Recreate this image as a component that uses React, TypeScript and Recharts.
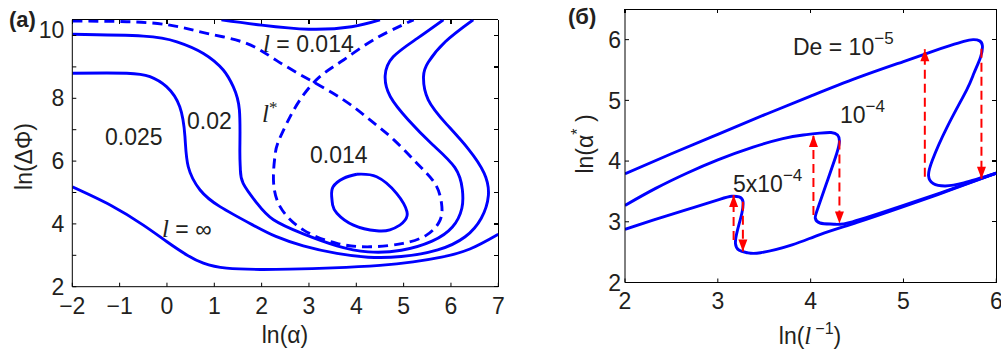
import React from "react";
import { LineChart, Line, XAxis, YAxis } from "recharts";

const FONT = "'Liberation Sans', Arial, Helvetica, sans-serif";
const SERIF = "'Liberation Serif', 'Times New Roman', serif";
const INK = "#231f20";
const BLUE = "#0000ff";
const RED = "#ff0000";

type P = [number, number];

// ---------- Panel (a): contours in (ln α, ln ΔΦ) ----------
const aXTicks = [-2, -1, 0, 1, 2, 3, 4, 5, 6, 7];
const aYTicks = [2, 3, 4, 5, 6, 7, 8, 9, 10];
const aYLabelled = [2, 4, 6, 8, 10];
const aDomainX: P = [-2, 7];
const aDomainY: P = [2, 10.5];

const contourInf: P[] = [
  [-2, 5.18], [-1.2, 4.6], [-0.5, 3.96], [0, 3.43], [0.42, 3.01], [0.77, 2.75],
  [1.26, 2.59], [1.97, 2.55], [2.6, 2.56], [3.5, 2.6], [4.5, 2.68], [5.2, 2.79],
  [5.8, 2.94], [6.4, 3.2], [7, 3.67],
];
const contour025: P[] = [
  [-2, 8.8], [-0.85, 8.8], [-0.36, 8.69], [-0.01, 8.37], [0.27, 7.73], [0.38, 6.78],
  [0.45, 5.82], [0.7, 5.08], [1.12, 4.55], [1.82, 3.96], [2.3, 3.6], [2.88, 3.3],
  [3.59, 3.06], [4.25, 2.94], [4.95, 2.96], [5.72, 3.17], [6.3, 3.59], [6.64, 4.18],
  [6.79, 4.9], [6.7, 5.62], [6.36, 6.4], [5.91, 7.17], [5.52, 7.95], [5.42, 8.69],
  [5.52, 9.15], [5.88, 9.8], [6.47, 10.5],
];
const contour02: P[] = [
  [-2, 10.04], [-0.5, 9.98], [0.21, 9.8], [0.77, 9.43], [1.19, 8.9], [1.4, 8.37],
  [1.53, 7.63], [1.54, 6.35], [1.55, 5.75], [1.61, 5.29], [1.9, 4.66], [2.25, 4.13],
  [2.88, 3.68], [3.59, 3.3], [4.25, 3.11], [4.95, 3.16], [5.6, 3.45], [6.03, 3.9],
  [6.23, 4.5], [6.24, 5.1], [6.08, 5.8], [5.58, 6.57], [5.1, 7.31], [4.72, 8.05],
  [4.61, 8.72], [4.78, 9.32], [5.28, 9.9], [5.84, 10.5],
];
const contour014Top: P[] = [
  [1.15, 10.5], [2.0, 10.33], [3.0, 10.2], [3.9, 10.28], [4.5, 10.5],
];
const contour014Loop: P[] = [
  [4.01, 5.58], [4.43, 5.5], [4.85, 4.97], [5.07, 4.39], [5.03, 4.12], [4.92, 3.96],
  [4.71, 3.81], [4.43, 3.78], [3.94, 3.96], [3.59, 4.34], [3.5, 4.6], [3.48, 4.87],
  [3.51, 5.18], [3.73, 5.45], [4.01, 5.58],
];
const separatrix: P[] = [
  [-2, 10.46], [-0.85, 10.44], [0.06, 10.33], [0.84, 10.07], [1.68, 9.75], [2.32, 9.2],
  [3.02, 8.58], [3.73, 7.95], [4.29, 7.31], [4.8, 6.67], [5.28, 5.93], [5.66, 5.29],
  [5.8, 4.66], [5.77, 4.12], [5.49, 3.65], [4.99, 3.38], [4.29, 3.27], [3.59, 3.38],
  [2.88, 3.81], [2.39, 4.55], [2.25, 5.4], [2.28, 6.14], [2.34, 6.57], [2.53, 7.2],
  [2.81, 7.95], [3.23, 8.69], [3.73, 9.22], [4.36, 9.86], [5.21, 10.5],
];

// ---------- Panel (б): ln α* vs ln(1/l) ----------
const bXTicks = [2, 3, 4, 5, 6];
const bYTicks = [2, 3, 4, 5, 6];
const bDomainX: P = [2, 6];
const bDomainY: P = [2, 6.5];

const de1e5: P[] = [
  [2, 3.79], [2.5, 4.12], [3, 4.44], [3.5, 4.76], [4, 5.07], [4.5, 5.37], [5, 5.64],
  [5.3, 5.8], [5.5, 5.9], [5.65, 5.97], [5.75, 6.0], [5.82, 5.98], [5.85, 5.9],
  [5.83, 5.71], [5.76, 5.45], [5.68, 5.17], [5.47, 4.56], [5.31, 4.01], [5.27, 3.76],
  [5.32, 3.63], [5.45, 3.59], [5.65, 3.64], [6, 3.8],
];
const de1e4: P[] = [
  [2, 3.27], [2.33, 3.55], [2.665, 3.8], [3, 4.02], [3.38, 4.23], [3.7, 4.37],
  [3.92, 4.43], [4.1, 4.46], [4.22, 4.47], [4.29, 4.43], [4.31, 4.33], [4.28, 4.12],
  [4.17, 3.63], [4.07, 3.19], [4.05, 3.06], [4.1, 2.98], [4.25, 2.96], [4.45, 3.0],
  [5, 3.27], [5.5, 3.53], [6, 3.8],
];
const de5e4: P[] = [
  [2, 2.875], [2.31, 3.03], [2.665, 3.2], [3.02, 3.37], [3.15, 3.42], [3.23, 3.41],
  [3.27, 3.34], [3.26, 3.15], [3.21, 2.85], [3.19, 2.64], [3.23, 2.53], [3.32, 2.49],
  [3.46, 2.49], [3.8, 2.62], [4.1, 2.79], [4.5, 2.99], [5, 3.25], [5.5, 3.52], [6, 3.8],
];
const arrowX = [3.17, 3.27, 4.03, 4.31, 5.23, 5.84];
const arrowFrom = [2.7, 3.33, 3.11, 4.34, 3.74, 5.85];
const arrowTo = [3.44, 2.51, 4.43, 2.97, 5.84, 3.71];

const toPts = (arr: P[]) => arr.map(([x, y]) => ({ x, y }));
const arrows = arrowX.map((x, i) => [
  { x, y: arrowFrom[i] },
  { x, y: arrowTo[i], tip: arrowTo[i] > arrowFrom[i] ? "up" : "down" },
]);

const fmtMinus = (v: number) => (v < 0 ? `\u2212${Math.abs(v)}` : `${v}`);
const TICK_FS = 23;
const tickStyle = { fill: INK, fontSize: TICK_FS, fontFamily: FONT };

// plot-area frames (page pixels) – used for chart margins and the Matlab-style box
const W = 1001;
const H = 352;
const X_AXIS_H = 60;
const aFrame = { left: 72.3, right: 498.3, top: 19.8, bottom: 286.7 };
const bFrame = { left: 625, right: 996.3, top: 9.3, bottom: 282.5 };
const marginOf = (f: typeof aFrame) => ({
  top: f.top,
  right: W - f.right,
  bottom: H - f.bottom - X_AXIS_H,
  left: 0,
});

const TICK_PX = 4;
const MatlabBox = ({ f, dx, dy, xt, yt }: any) => {
  const sx = (v: number) => f.left + ((v - dx[0]) / (dx[1] - dx[0])) * (f.right - f.left);
  const sy = (v: number) => f.bottom - ((v - dy[0]) / (dy[1] - dy[0])) * (f.bottom - f.top);
  return (
    <g stroke="#000" strokeWidth={1.2} fill="none" shapeRendering="crispEdges">
      <line x1={f.left} y1={f.top} x2={f.right} y2={f.top} />
      <line x1={f.right} y1={f.top} x2={f.right} y2={f.bottom} />
      {xt.map((t: number) => (
        <line key={`t${t}`} x1={sx(t)} y1={f.top} x2={sx(t)} y2={f.top + TICK_PX} />
      ))}
      {yt.map((t: number) => (
        <line key={`r${t}`} x1={f.right} y1={sy(t)} x2={f.right - TICK_PX} y2={sy(t)} />
      ))}
    </g>
  );
};

const AYTick = (p: any) => {
  const v = p.payload?.value;
  const label = aYLabelled.includes(v) ? String(v) : "";
  const shift = v === 10 ? -6 : 0;
  return (
    <text x={p.x} y={p.y + shift} dy="0.355em" textAnchor="end" fill={INK} fontSize={TICK_FS} fontFamily={FONT}>
      {label}
    </text>
  );
};

const ArrowDot = (props: any) => {
  const { cx, cy, payload, index } = props;
  if (!payload || !payload.tip || cx == null || cy == null) return <g key={`ad${index}`} />;
  const s = payload.tip === "up" ? 1 : -1;
  return (
    <polygon
      key={`ad${index}`}
      points={`${cx},${cy} ${cx - 4.5},${cy + s * 12} ${cx + 4.5},${cy + s * 12}`}
      fill={RED}
      stroke="none"
    />
  );
};

const lineCommon = {
  dataKey: "y",
  type: "natural" as const,
  dot: false,
  activeDot: false,
  isAnimationActive: false,
  stroke: BLUE,
  strokeWidth: 2.9,
};

const T = (p: any) => <text fontFamily={FONT} fill={INK} fontSize={23} {...p} />;
const It = ({ children, size }: any) => (
  <tspan fontFamily={SERIF} fontStyle="italic" fontSize={size || 25}>
    {children}
  </tspan>
);

export default function App() {
  return (
    <div style={{ position: "absolute", left: 0, top: 0, width: W, height: H, background: "#fff" }}>
      <div style={{ position: "absolute", left: 0, top: 0 }}>
        <LineChart width={W} height={H} margin={marginOf(aFrame)}>
          <XAxis
            xAxisId="b" type="number" dataKey="x" domain={aDomainX} ticks={aXTicks} allowDataOverflow
            interval={0} height={X_AXIS_H} tickSize={-4} tickMargin={15.4} stroke="#000"
            tick={tickStyle} tickFormatter={fmtMinus}
          />
          <YAxis
            yAxisId="l" type="number" domain={aDomainY} ticks={aYTicks} allowDataOverflow interval={0}
            width={aFrame.left} tickSize={-4} tickMargin={12} stroke="#000" tick={AYTick}
          />
          <Line {...lineCommon} xAxisId="b" yAxisId="l" data={toPts(contourInf)} />
          <Line {...lineCommon} xAxisId="b" yAxisId="l" data={toPts(contour025)} />
          <Line {...lineCommon} xAxisId="b" yAxisId="l" data={toPts(contour02)} />
          <Line {...lineCommon} xAxisId="b" yAxisId="l" data={toPts(contour014Top)} />
          <Line {...lineCommon} xAxisId="b" yAxisId="l" data={toPts(contour014Loop)} />
          <Line {...lineCommon} xAxisId="b" yAxisId="l" data={toPts(separatrix)} strokeDasharray="10 6" />
          <MatlabBox f={aFrame} dx={aDomainX} dy={aDomainY} xt={aXTicks} yt={aYTicks} />

          <T x={9} y={27} fontWeight="bold" fontSize={22}>(a)</T>
          <T x={285} y={343} textAnchor="middle">ln(α)</T>
          <T transform="rotate(-90)" x={-156.5} y={32} textAnchor="middle">ln(ΔΦ)</T>
          <T x={263} y={52}><It>l</It>{" = 0.014"}</T>
          <T x={262} y={122}><It>l</It><tspan fontFamily={SERIF} fontSize={17} dy={-9}>*</tspan></T>
          <T x={105} y={145}>0.025</T>
          <T x={187} y={129}>0.02</T>
          <T x={310} y={163}>0.014</T>
          <T x={162} y={237}><It>l</It>{" = ∞"}</T>
        </LineChart>
      </div>
      <div style={{ position: "absolute", left: 0, top: 0 }}>
        <LineChart width={W} height={H} margin={marginOf(bFrame)}>
          <XAxis
            xAxisId="b" type="number" dataKey="x" domain={bDomainX} ticks={bXTicks} allowDataOverflow
            interval={0} height={X_AXIS_H} tickSize={-4} tickMargin={14.2} stroke="#000" tick={tickStyle}
          />
          <YAxis
            yAxisId="l" type="number" domain={bDomainY} ticks={bYTicks} allowDataOverflow interval={0}
            width={bFrame.left} tickSize={-4} tickMargin={8} stroke="#000" tick={tickStyle}
          />
          <Line {...lineCommon} xAxisId="b" yAxisId="l" data={toPts(de1e5)} />
          <Line {...lineCommon} xAxisId="b" yAxisId="l" data={toPts(de1e4)} />
          <Line {...lineCommon} xAxisId="b" yAxisId="l" data={toPts(de5e4)} />
          {arrows.map((a, i) => (
            <Line
              key={`arr${i}`}
              xAxisId="b" yAxisId="l" data={a} dataKey="y" type="linear"
              stroke={RED} strokeWidth={2} strokeDasharray="9 5"
              dot={ArrowDot} activeDot={false} isAnimationActive={false}
            />
          ))}
          <MatlabBox f={bFrame} dx={bDomainX} dy={bDomainY} xt={bXTicks} yt={bYTicks} />

          <T x={568} y={24} fontWeight="bold" fontSize={22}>(б)</T>
          <T x={810} y={344} textAnchor="middle">
            ln(<It>l</It><tspan dx={4} dy={-10} fontSize={16}>−1</tspan><tspan dy={10}>)</tspan>
          </T>
          <T transform="rotate(-90)" x={-144} y={593} textAnchor="middle">
            ln(α<tspan dy={-10} fontSize={16}>*</tspan><tspan dy={10}>{" )"}</tspan>
          </T>
          <T x={793} y={55}>De = 10<tspan dy={-11} fontSize={17}>−5</tspan></T>
          <T x={840} y={123}>10<tspan dy={-11} fontSize={17}>−4</tspan></T>
          <T x={733} y={191.5}>5x10<tspan dy={-11} fontSize={17}>−4</tspan></T>
        </LineChart>
      </div>
    </div>
  );
}
